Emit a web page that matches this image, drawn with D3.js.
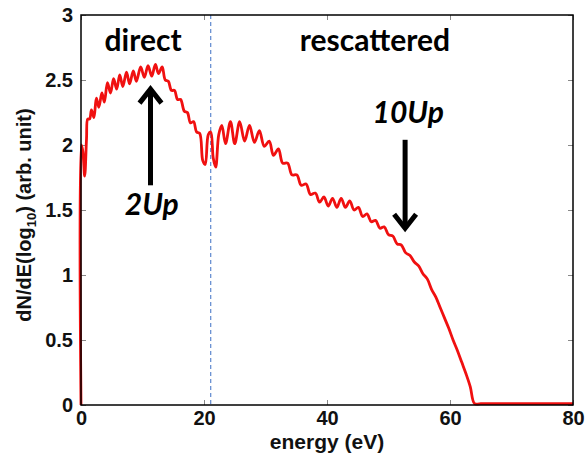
<!DOCTYPE html>
<html><head><meta charset="utf-8">
<script src="https://cdn.jsdelivr.net/npm/d3@7"></script>
<style>body{margin:0;background:#fff}svg{display:block}</style>
</head><body>
<script>
const xTicks = [0, 20, 40, 60, 80];
const yTicks = [0, 0.5, 1, 1.5, 2, 2.5, 3];
const energy = [0,0.05,0.3,0.6,0.9,1.1,1.4,1.7,2.1,2.5,2.9,3.4,3.8,4.3,4.8,5.3,5.8,6.3,6.8,7.4,7.9,8.5,9.0,9.7,10.3,10.9,11.5,12.1,12.6,13.2,13.7,14.2,14.7,15.2,15.7,16.2,16.8,17.3,17.8,18.3,18.8,19.3,19.8,20.2,20.7,21.1,21.5,21.9,22.4,22.9,23.5,24.3,25.0,25.8,26.6,27.4,28.2,29.0,29.8,30.6,31.3,32.1,32.8,33.6,34.3,35.1,35.8,36.6,37.3,38.1,38.8,39.5,40.2,40.9,41.6,42.3,43.0,43.7,44.4,45.1,45.8,46.5,47.2,47.9,48.6,49.3,50.0,50.7,51.4,52.1,52.8,53.5,54.2,54.9,55.6,56.3,57.0,57.7,58.4,59.1,59.8,60.5,61.2,61.9,62.6,63.3,64.0,65,80];
const yield_ = [0,2.0,1.95,1.76,2.05,2.2,2.2,2.27,2.21,2.36,2.29,2.4,2.33,2.48,2.4,2.51,2.43,2.54,2.45,2.56,2.47,2.57,2.49,2.6,2.52,2.61,2.53,2.62,2.55,2.6,2.5,2.49,2.42,2.42,2.35,2.35,2.26,2.25,2.17,2.18,2.1,2.09,1.88,1.85,2.08,2.1,1.9,1.83,2.08,2.15,2.01,2.18,2.01,2.18,2.03,2.15,2.02,2.11,1.99,2.03,1.92,1.97,1.86,1.86,1.77,1.77,1.69,1.7,1.62,1.63,1.56,1.6,1.53,1.59,1.52,1.59,1.52,1.57,1.5,1.52,1.45,1.47,1.41,1.42,1.36,1.37,1.31,1.3,1.24,1.23,1.17,1.15,1.1,1.07,1.01,0.97,0.89,0.83,0.75,0.67,0.59,0.5,0.42,0.33,0.24,0.14,0.01,0.01,0.01];
const boundaryEnergy = 21.1;
const annotations = [
  {text: "direct", e: 10.1, v: 2.72, italic: false},
  {text: "rescattered", e: 47.8, v: 2.72, italic: false},
  {text: "2Up", e: 11.5, v: 1.46, italic: true},
  {text: "10Up", e: 53.2, v: 2.17, italic: true}
];
const arrows = [
  {e: 11.3, from: 1.69, to: 2.43},
  {e: 52.7, from: 2.04, to: 1.36}
];

const W = 587, H = 457;
const m = {l: 81, r: 14, t: 15, b: 52};
const svg = d3.select("body").append("svg").attr("width", W).attr("height", H);
const x = d3.scaleLinear().domain([0, 80]).range([m.l, W - m.r]);
const y = d3.scaleLinear().domain([0, 3]).range([H - m.b, m.t]);
const font = "'Liberation Sans', Arial, sans-serif";

// inward ticks
const tickStyle = g => { g.select(".domain").remove(); g.selectAll(".tick line").attr("stroke", "#888").attr("stroke-width", 1); g.selectAll("text").remove(); };
svg.append("g").attr("transform", `translate(0,${y(0)})`).call(d3.axisTop(x).tickValues(xTicks).tickSize(5).tickFormat("")).call(tickStyle);
svg.append("g").attr("transform", `translate(0,${y(3)})`).call(d3.axisBottom(x).tickValues(xTicks).tickSize(5).tickFormat("")).call(tickStyle);
svg.append("g").attr("transform", `translate(${x(0)},0)`).call(d3.axisRight(y).tickValues(yTicks).tickSize(5).tickFormat("")).call(tickStyle);
svg.append("g").attr("transform", `translate(${x(80)},0)`).call(d3.axisLeft(y).tickValues(yTicks).tickSize(5).tickFormat("")).call(tickStyle);

// tick labels
const xl = svg.append("g").attr("transform", `translate(0,${y(0)})`)
  .call(d3.axisBottom(x).tickValues(xTicks).tickSize(0).tickPadding(6).tickFormat(d3.format("d")));
xl.select(".domain").remove();
xl.selectAll("text").attr("font-family", font).attr("font-size", 20).attr("font-weight", "bold").attr("fill", "#111");
const yl = svg.append("g").attr("transform", `translate(${x(0)},0)`)
  .call(d3.axisLeft(y).tickValues(yTicks).tickSize(0).tickPadding(8).tickFormat(d => d3.format("")(d)));
yl.select(".domain").remove();
yl.selectAll("text").attr("font-family", font).attr("font-size", 20).attr("font-weight", "bold").attr("fill", "#111");

// dashed boundary
svg.append("line").attr("x1", x(boundaryEnergy)).attr("x2", x(boundaryEnergy))
  .attr("y1", y(3)).attr("y2", y(0)).attr("stroke", "#3d6fc4").attr("stroke-width", 1).attr("stroke-dasharray", "4,3");

// curve
const pts = energy.map((e, i) => [e, yield_[i]]);
svg.append("path").datum(pts)
  .attr("d", d3.line().x(d => x(d[0])).y(d => y(d[1])).curve(d3.curveCatmullRom.alpha(0.5)))
  .attr("fill", "none").attr("stroke", "#f01010").attr("stroke-width", 2.8).attr("stroke-linejoin", "round");

// frame
svg.append("rect").attr("x", x(0)).attr("y", y(3)).attr("width", x(80) - x(0)).attr("height", y(0) - y(3))
  .attr("fill", "none").attr("stroke", "#000").attr("stroke-width", 1.5);

// annotations
svg.selectAll(".ann").data(annotations).enter().append("text")
  .attr("x", d => x(d.e)).attr("y", d => y(d.v)).attr("text-anchor", "middle")
  .attr("font-family", "Lato, 'Open Sans', sans-serif").attr("font-weight", "bold")
  .attr("font-style", d => d.italic ? "italic" : "normal")
  .attr("font-size", 30).attr("fill", "#000").text(d => d.text);

// arrows
arrows.forEach(a => {
  const x0 = x(a.e), y0 = y(a.from), y1 = y(a.to);
  const dir = y1 < y0 ? 1 : -1;
  svg.append("line").attr("x1", x0).attr("x2", x0).attr("y1", y0).attr("y2", y1 + dir * 3)
    .attr("stroke", "#000").attr("stroke-width", 5);
  svg.append("path").attr("d", `M${x0 - 11},${y1 + dir * 14}L${x0},${y1}L${x0 + 11},${y1 + dir * 14}`)
    .attr("fill", "none").attr("stroke", "#000").attr("stroke-width", 5).attr("stroke-linejoin", "miter");
});

// axis titles
svg.append("text").attr("x", (x(0) + x(80)) / 2).attr("y", 449).attr("text-anchor", "middle")
  .attr("font-family", font).attr("font-weight", "bold").attr("font-size", 21).attr("fill", "#111").text("energy (eV)");
const yt = svg.append("text").attr("transform", `translate(31,215) rotate(-90)`)
  .attr("text-anchor", "middle").attr("font-family", font).attr("font-weight", "bold").attr("font-size", 20).attr("fill", "#111");
yt.append("tspan").text("dN/dE(log");
yt.append("tspan").attr("font-size", 13).attr("dy", 5).text("10");
yt.append("tspan").attr("dy", -5).text(") (arb. unit)");
</script>
</body></html>
